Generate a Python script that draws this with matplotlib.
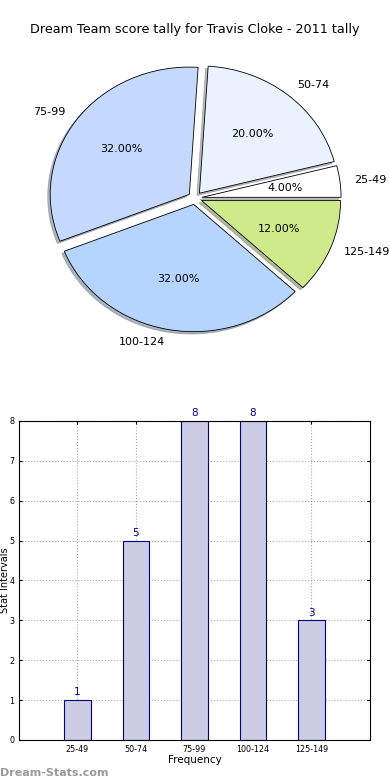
import matplotlib
matplotlib.use('Agg')
import matplotlib.pyplot as plt
import numpy as np

# Score intervals and how many games fell in each
intervals = ['25-49', '50-74', '75-99', '100-124', '125-149']
counts = [1, 5, 8, 8, 3]
pie_colors = ['#FFFFFF', '#EAF1FF', '#C5D9FF', '#B5D5FF', '#CFEA8A']

title = 'Dream Team score tally for Travis Cloke - 2011 tally'

fig = plt.figure(figsize=(3.9, 7.8), dpi=100)

### Pie chart (top) ###
ax1 = fig.add_axes([0.054, 0.542, 0.892, 0.408])
ax1.pie(counts, labels=intervals, colors=pie_colors, autopct='%1.2f%%',
        explode=[0.05] * len(counts),
        shadow={'ox': -0.013, 'oy': -0.013, 'shade': 0.5},
        wedgeprops=dict(edgecolor='black', linewidth=0.6),
        textprops=dict(fontsize=8))
ax1.set_aspect('auto')
ax1.set_xlim(-1.25, 1.25)
ax1.set_ylim(-1.25, 1.25)
fig.text(0.5, 1 - 30 / 780, title, ha='center', va='center', fontsize=9.2)

### Bar chart (bottom) ###
ax2 = fig.add_axes([0.0487, 0.0513, 0.9, 0.409])
x = np.arange(len(intervals))
bars = ax2.bar(x, counts, width=0.45, color='#CCCCE4', edgecolor='#000080',
               linewidth=0.8, zorder=2)
for bar in bars:
    h = bar.get_height()
    ax2.annotate(f'{h:d}', xy=(bar.get_x() + bar.get_width() / 2, h),
                 xytext=(0, 2), textcoords='offset points',
                 ha='center', va='bottom', fontsize=7.5, color='#000080',
                 annotation_clip=False)

ax2.set_xlim(-1, 5)
ax2.set_ylim(0, 8)
ax2.set_xticks(x)
ax2.set_xticklabels(intervals)
ax2.set_yticks(range(0, 9))
ax2.tick_params(labelsize=5.8, length=2, direction='in', top=True, right=True)
ax2.grid(True, linestyle=':', color='#AAAAAA', linewidth=0.8, zorder=0)
ax2.set_xlabel('Frequency', fontsize=7.5, labelpad=1)
ax2.set_ylabel('Stat Intervals', fontsize=7)
ax2.yaxis.set_label_coords(-0.026, 0.5)

fig.text(0.0, 0.003, 'Dream-Stats.com', ha='left', va='bottom',
         fontsize=8, color='#999999', fontweight='bold')

fig.savefig('out.png', dpi=100)
